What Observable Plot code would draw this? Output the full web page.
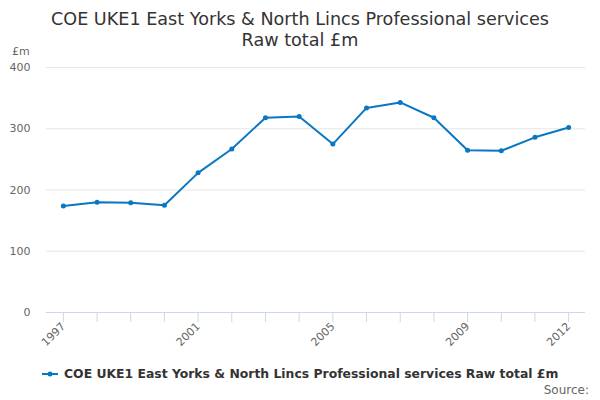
<!DOCTYPE html>
<html>
<head>
<meta charset="utf-8">
<script src="https://cdn.jsdelivr.net/npm/d3@7"></script>
<script src="https://cdn.jsdelivr.net/npm/@observablehq/plot@0.6"></script>
<style>
  body { margin: 0; background: #fff; font-family: "DejaVu Sans", sans-serif; }
  #wrap { position: relative; width: 600px; height: 400px; overflow: hidden; }
  #title { position: absolute; left: 0; top: 9px; width: 600px; text-align: center; font-size: 17.6px; line-height: 21px; color: #333; }
  #unit { position: absolute; left: 12px; top: 45px; font-size: 11px; color: #666; }
  #chart { position: absolute; left: 0; top: 45px; }
  #legend { position: absolute; left: 42px; top: 366px; font-size: 12.4px; font-weight: bold; color: #333; display: flex; align-items: center; }
  #legend svg { margin-right: 6px; }
  #source { position: absolute; right: 11px; top: 383px; font-size: 12px; color: #666; }
</style>
</head>
<body>
<div id="wrap">
  <div id="title">COE UKE1 East Yorks &amp; North Lincs Professional services<br>Raw total £m</div>
  <div id="unit">£m</div>
  <div id="chart"></div>
  <div id="legend"><svg width="16" height="10"><line x1="0" y1="5" x2="16" y2="5" stroke="#0a77c2" stroke-width="2"/><circle cx="8" cy="5" r="2.5" fill="#0a77c2"/></svg><span>COE UKE1 East Yorks &amp; North Lincs Professional services Raw total £m</span></div>
  <div id="source">Source:</div>
</div>
<script>
const years = [1997, 1998, 1999, 2000, 2001, 2002, 2003, 2004, 2005, 2006, 2007, 2008, 2009, 2010, 2011, 2012];
const values = [174, 180, 179, 175, 228, 267, 318, 320, 275, 334, 343, 318, 265, 264, 286, 302];
const labelledYears = [1997, 2001, 2005, 2009, 2012];
const yTicks = [0, 100, 200, 300, 400];

const data = years.map((y, i) => ({year: y, value: values[i]}));
const color = "#0a77c2";

const chart = Plot.plot({
  width: 600,
  height: 310,
  marginTop: 22,
  marginBottom: 43,
  marginLeft: 46,
  marginRight: 15,
  style: {fontFamily: "DejaVu Sans, sans-serif", fontSize: "11px", color: "#666", background: "transparent"},
  x: {domain: [1996.5, 2012.5]},
  y: {domain: [0, 400]},
  marks: [
    Plot.gridY(yTicks, {stroke: "#e6e6e6", strokeOpacity: 1}),
    Plot.axisY({ticks: yTicks, tickSize: 0, tickPadding: 16, label: null, fill: "#666"}),
    Plot.ruleY([0], {stroke: "#ccd6eb", strokeWidth: 1}),
    Plot.axisX({ticks: years, tickSize: 10, stroke: "#ccd6eb", strokeOpacity: 1, tickRotate: -45, tickPadding: 2,
      tickFormat: d => labelledYears.includes(d) ? String(d) : "", label: null, fill: "#666"}),
    Plot.line(data, {x: "year", y: "value", stroke: color, strokeWidth: 2}),
    Plot.dot(data, {x: "year", y: "value", fill: color, r: 2.5})
  ]
});
document.getElementById("chart").appendChild(chart);
</script>
</body>
</html>
